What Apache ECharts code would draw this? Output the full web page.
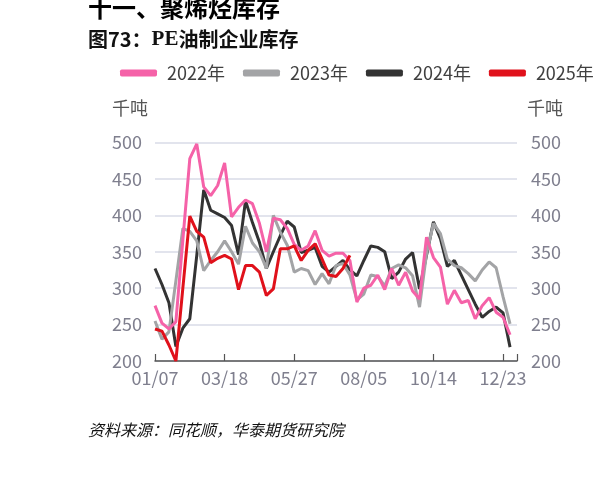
<!DOCTYPE html>
<html>
<head>
<meta charset="utf-8">
<script src="https://cdn.jsdelivr.net/npm/echarts@6/dist/echarts.min.js"></script>
<style>
html,body{margin:0;padding:0;background:#fff;}
#chart{width:599px;height:477px;}
</style>
</head>
<body>
<div id="chart"></div>
<script>
var categories = ['01/07','01/14','01/21','01/28','02/04','02/11','02/18','02/25','03/04','03/11',
  '03/18','03/25','04/01','04/08','04/15','04/22','04/29','05/06','05/13','05/20',
  '05/27','06/03','06/10','06/17','06/24','07/01','07/08','07/15','07/22','07/29',
  '08/05','08/12','08/19','08/26','09/02','09/09','09/16','09/23','09/30','10/07',
  '10/14','10/21','10/28','11/04','11/11','11/18','11/25','12/02','12/09','12/16',
  '12/23','12/30','01/06'];

var seriesNames = ['2022年','2023年','2024年','2025年'];

var data2022 = [276,252,244,254,366,478,498,439,427,441,472,398,411,421,416,389,350,396,394,382,
  360,352,358,379,352,344,348,348,338,281,300,304,318,298,327,304,322,296,285,370,
  342,329,278,297,280,283,258,276,287,267,260,236];
var data2023 = [255,230,240,310,382,378,365,324,338,350,365,350,333,385,362,350,327,400,377,359,
  322,327,324,305,320,306,331,334,318,284,292,318,316,303,327,332,328,317,274,347,
  389,375,340,331,328,320,310,325,336,328,288,251];
var data2024 = [327,305,280,220,245,258,345,435,407,402,397,386,346,420,390,363,327,350,372,392,
  384,349,352,356,330,322,330,338,325,317,338,358,356,350,313,322,340,349,299,345,
  391,368,330,338,318,298,278,260,268,274,266,219];
var data2025 = [244,241,222,200,300,399,378,370,335,341,345,340,298,331,331,322,290,299,354,354,
  358,338,352,361,340,318,316,327,345];

var yTicks = {min:200, max:500, interval:50};
var colors = ['#f562a8','#a3a4a6','#333333','#e0111b'];

var chart = echarts.init(document.getElementById('chart'), null, {renderer:'canvas'});
var FONT = '"Noto Sans CJK SC", "Noto Sans", sans-serif';
var labelColor = '#7f7f8e';

function mkSeries(i, d){
  return {
    name: seriesNames[i], type:'line', data:d, yAxisIndex:0,
    showSymbol:false, symbol:'none', smooth:false,
    lineStyle:{color:colors[i], width:3},
    itemStyle:{color:colors[i]},
    z: 10 - i + (i===3 ? 10 : 0)
  };
}

var option = {
  animation:false,
  backgroundColor:'#ffffff',
  title:{
    text:'{a|图73：}{b|PE}{a|油制企业库存}',
    left:88, top:29, padding:0,
    textStyle:{
      rich:{
        a:{fontSize:20, fontWeight:'bold', fontFamily:FONT, color:'#111'},
        b:{fontSize:21, fontWeight:'bold', fontFamily:'"Liberation Serif", serif', color:'#111'}
      }
    }
  },
  legend:{
    data:seriesNames,
    left:120, top:64, padding:0,
    icon:'roundRect', itemWidth:37, itemHeight:7, itemGap:18,
    textStyle:{fontSize:18, color:'#404040', fontFamily:FONT, padding:[0,0,0,5]}
  },
  grid:{left:155, right:82, top:142.5, bottom:116, containLabel:false},
  xAxis:{
    type:'category', data:categories, boundaryGap:false,
    axisLine:{show:true, lineStyle:{color:'#555555', width:1.5}},
    axisTick:{show:true, inside:true, length:7, lineStyle:{color:'#555555', width:1.2},
      interval:function(idx){ return idx % 10 === 0 || idx === categories.length-1; }},
    axisLabel:{fontSize:18, color:labelColor, fontFamily:FONT, margin:8,
      interval:function(idx){ return idx % 10 === 0; }},
    splitLine:{show:false}
  },
  yAxis:[
    {type:'value', position:'left', min:yTicks.min, max:yTicks.max, interval:yTicks.interval,
      axisLine:{show:false}, axisTick:{show:false},
      axisLabel:{fontSize:18, color:labelColor, fontFamily:FONT, margin:13},
      splitLine:{show:true, lineStyle:{color:'#d9dbe7', width:1.5}}},
    {type:'value', position:'right', min:yTicks.min, max:yTicks.max, interval:yTicks.interval,
      axisLine:{show:false}, axisTick:{show:false},
      axisLabel:{fontSize:18, color:labelColor, fontFamily:FONT, margin:14},
      splitLine:{show:false}}
  ],
  graphic:[
    {type:'text', x:88, y:8, style:{text:'十一、聚烯烃库存', font:'bold 24px ' + FONT, fill:'#000',
      verticalAlign:'middle', textVerticalAlign:'middle'}},
    {type:'text', x:112, y:108, style:{text:'千吨', font:'18px ' + FONT, fill:'#555555',
      verticalAlign:'middle', textVerticalAlign:'middle'}},
    {type:'text', x:527, y:108, style:{text:'千吨', font:'18px ' + FONT, fill:'#555555',
      verticalAlign:'middle', textVerticalAlign:'middle'}},
    {type:'text', x:88, y:430, style:{text:'资料来源：同花顺，华泰期货研究院', font:'italic 16px ' + FONT, fill:'#111',
      verticalAlign:'middle', textVerticalAlign:'middle'}}
  ],
  series:[
    mkSeries(0, data2022),
    mkSeries(1, data2023),
    mkSeries(2, data2024),
    mkSeries(3, data2025)
  ]
};
chart.setOption(option);
</script>
</body>
</html>
